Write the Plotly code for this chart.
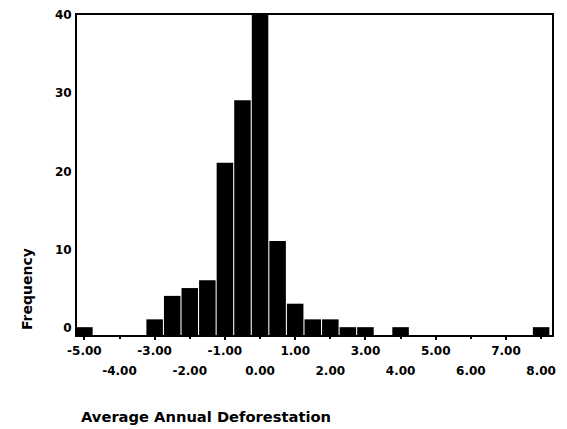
import plotly.graph_objects as go

# Histogram bins (centres, width 0.5) and frequencies
bin_centers = [-5.0, -4.5, -4.0, -3.5, -3.0, -2.5, -2.0, -1.5, -1.0, -0.5, 0.0, 0.5,
               1.0, 1.5, 2.0, 2.5, 3.0, 3.5, 4.0, 4.5, 5.0, 5.5, 6.0, 6.5, 7.0, 7.5, 8.0]
frequency = [1, 0, 0, 0, 2, 5, 6, 7, 22, 30, 41, 12,
             4, 2, 2, 1, 1, 0, 1, 0, 0, 0, 0, 0, 0, 0, 1]

odd_ticks = [-5, -3, -1, 1, 3, 5, 7]
odd_labels = ["-5.00", "-3.00", "-1.00", "1.00", "3.00", "5.00", "7.00"]
even_ticks = [-4, -2, 0, 2, 4, 6, 8]
even_labels = ["-4.00", "-2.00", "0.00", "2.00", "4.00", "6.00", "8.00"]
y_ticks = [0, 10, 20, 30, 40]

x_range = [-5.21, 8.31]
y_range = [0, 40.9]

tick_font = dict(family="DejaVu Sans", size=12, color="black", weight="bold")
lab_font = dict(family="DejaVu Sans", size=14, color="black", weight="bold")
title_font = dict(family="DejaVu Sans", size=14.7, color="black", weight="bold")

fig = go.Figure()
fig.add_trace(go.Bar(x=bin_centers, y=frequency, marker=dict(color="black", line=dict(width=0)),
                     width=0.47, hoverinfo="x+y"))
# invisible trace to carry the second row of x tick labels
fig.add_trace(go.Scatter(x=[x_range[0]], y=[0], xaxis="x2", mode="markers",
                         marker=dict(opacity=0), showlegend=False, hoverinfo="skip"))

fig.update_layout(
    width=567, height=429,
    margin=dict(l=77, r=15, t=15, b=94, autoexpand=False),
    plot_bgcolor="white", paper_bgcolor="white",
    showlegend=False,
    bargap=0.06,
    xaxis=dict(range=x_range, tickvals=odd_ticks, ticktext=odd_labels, automargin=False,
               showgrid=False, zeroline=False, showline=True, linewidth=2, linecolor="black",
               mirror=True, ticks="outside", ticklen=3, tickwidth=2, tickcolor="black",
               tickfont=tick_font, ticklabelstandoff=1),
    xaxis2=dict(range=x_range, overlaying="x", anchor="y", side="bottom", automargin=False,
                tickvals=even_ticks, ticktext=even_labels,
                showgrid=False, zeroline=False, showline=False,
                ticks="outside", ticklen=3, tickwidth=2, tickcolor="black",
                tickfont=tick_font, ticklabelstandoff=22),
    yaxis=dict(range=y_range, tickvals=y_ticks, ticktext=[str(v) for v in y_ticks],
               automargin=False,
               showgrid=False, zeroline=False, showline=True, linewidth=2, linecolor="black",
               mirror=True, ticks="", tickfont=tick_font, ticklabelshift=-7,
               ticklabelstandoff=1),
    annotations=[
        dict(text="Frequency", xref="paper", yref="paper", x=-0.105, y=0.144,
             xanchor="center", yanchor="middle", textangle=-90, showarrow=False, font=lab_font),
        dict(text="Average Annual Deforestation", xref="paper", yref="paper", x=0.2716, y=-0.256,
             xanchor="center", yanchor="middle", showarrow=False, font=title_font),
    ],
)

fig.write_html("out.html")
